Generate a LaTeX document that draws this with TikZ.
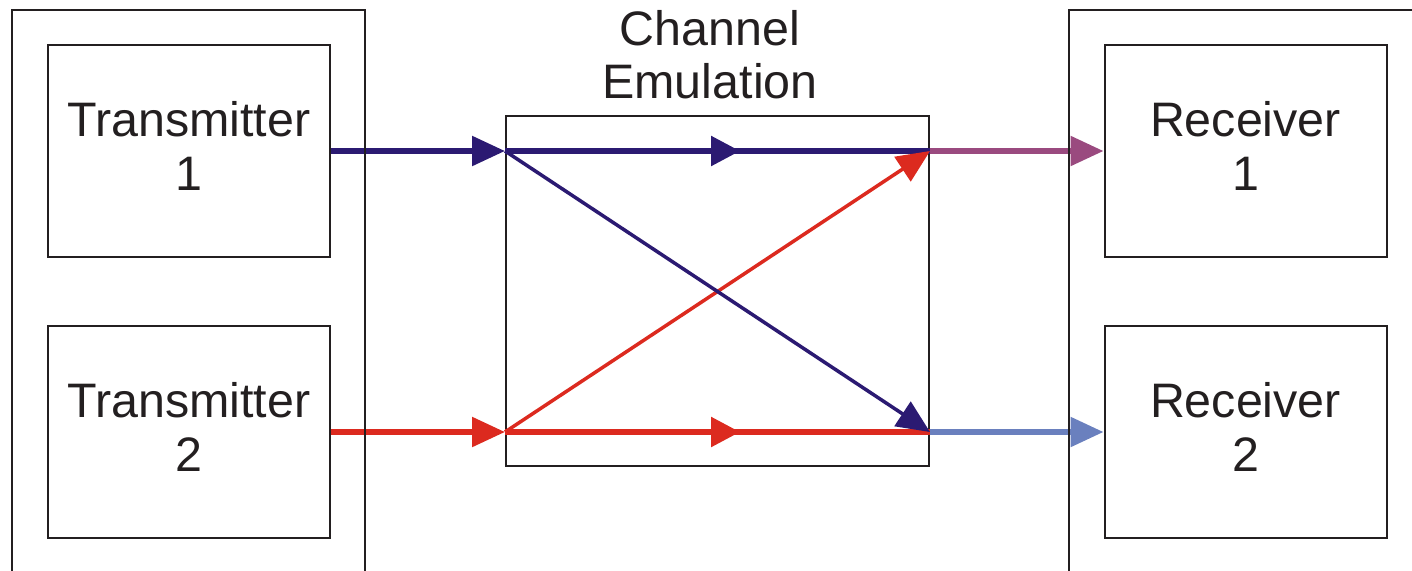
\documentclass[tikz,border=0pt]{standalone}
\usepackage{fontspec}
\setmainfont{Liberation Sans}
\usepackage{xcolor}
\usetikzlibrary{arrows.meta, positioning, decorations.markings}

\definecolor{boxline}{HTML}{231F20}
\definecolor{sigblue}{HTML}{2B1A72}
\definecolor{sigred}{HTML}{DC2A1F}
\definecolor{mixpurple}{HTML}{9A4A7F}
\definecolor{lightblue}{HTML}{6A80BE}

\begin{document}
\begin{tikzpicture}[x=1pt, y=-1pt,
  blk/.style={draw=boxline, line width=2pt, minimum width=282pt, minimum height=212pt,
    inner sep=0pt, text depth=10pt, align=center, text=boxline, font=\fontsize{48.4}{54}\selectfont},
  lbl/.style={inner sep=0pt, align=center, text=boxline, font=\fontsize{48.4}{53}\selectfont},
  sig/.style={line width=5.5pt, -{Triangle[length=33pt, width=29pt]}},
  cross/.style={line width=3.5pt, -{Triangle[length=33pt, width=29pt]}},
  midarrow/.style={postaction={decorate}, decoration={markings,
    mark=at position 0.553 with {\arrow{Triangle[length=29pt, width=29pt]}}}}]
  \useasboundingbox (0,0) rectangle (1412,570);

  % Transmitters and receivers
  \node[blk] (tx1) at (189,151) {Transmitter\\1};
  \node[blk] (tx2) at (189,432) {Transmitter\\2};
  \node[blk] (rx1) at (1245.5,151) {Receiver\\1};
  \node[blk] (rx2) at (1245.5,432) {Receiver\\2};

  % Channel emulator
  \node[blk, text depth=0pt, minimum width=423pt, minimum height=350pt] (chan) at (717.5,291) {};
  \node[lbl, above=16pt of chan, xshift=-7.5pt] (chanlbl) {Channel\\Emulation};

  \coordinate (in1) at (chan.west |- tx1);
  \coordinate (in2) at (chan.west |- tx2);
  \coordinate (out1) at (chan.east |- rx1);
  \coordinate (out2) at (chan.east |- rx2);

  % Inputs
  \draw[sig, sigblue] (tx1) -- (in1);
  \draw[sig, sigred] (tx2) -- (in2);

  % Paths through the channel
  \draw[line width=5.5pt, sigblue, midarrow] (in1) -- (out1);
  \draw[line width=5.5pt, sigred, midarrow] (in2) -- (out2);
  \draw[cross, sigred] (in2) -- (out1);
  \draw[cross, sigblue] (in1) -- (out2);

  % Outputs
  \draw[sig, mixpurple] (out1) -- (rx1);
  \draw[sig, lightblue] (out2) -- (rx2);

  % Outer frames, cut off by the picture edge
  \begin{scope}
    \clip (0,0) rectangle (1412,570);
    \draw[boxline, line width=2pt] (12,10) rectangle (365,600);
    \draw[boxline, line width=2pt] (1069,10) rectangle (1450,600);
  \end{scope}
\end{tikzpicture}
\end{document}
